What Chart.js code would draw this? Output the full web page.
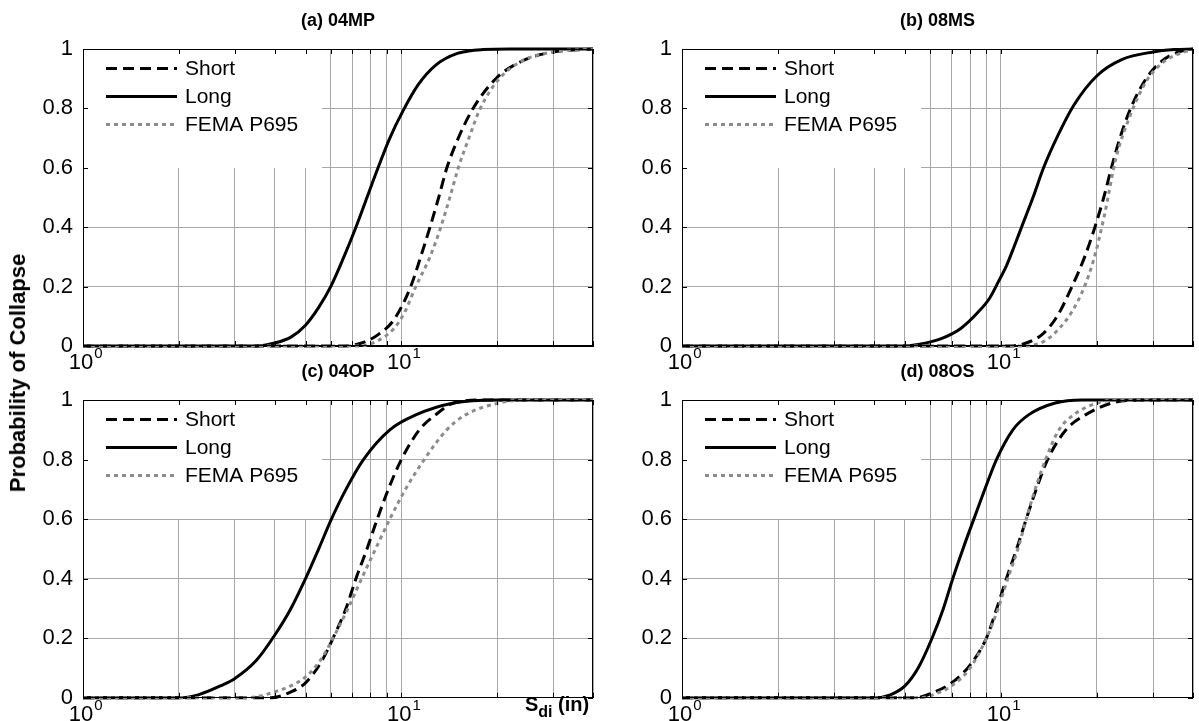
<!DOCTYPE html>
<html>
<head>
<meta charset="utf-8">
<script src="https://cdn.jsdelivr.net/npm/chart.js@4.4.1/dist/chart.umd.min.js"></script>
<style>
html,body{margin:0;padding:0;background:#fff;}
#wrap{position:relative;width:1199px;height:721px;overflow:hidden;background:#fff;font-family:"Liberation Sans",Arial,sans-serif;color:#000;}
#wrap canvas{position:absolute;}
.ptitle{position:absolute;font-weight:bold;font-size:18px;white-space:nowrap;transform:translateX(-50%);line-height:20px;}
#ylab{position:absolute;left:18px;top:373px;font-weight:bold;font-size:22px;white-space:nowrap;transform:translate(-50%,-50%) rotate(-90deg);line-height:24px;}
#xlab{position:absolute;left:525px;top:693px;font-weight:bold;font-size:20px;white-space:nowrap;line-height:22px;}
#xlab sub{font-size:16px;vertical-align:-6px;}
</style>
</head>
<body>
<div id="wrap"></div>
<script>
// ---------- data ----------
const panelTitles = ['(a) 04MP', '(b) 08MS', '(c) 04OP', '(d) 08OS'];
const seriesNames = ['Short', 'Long', 'FEMA P695'];
const yTickValues = [0, 0.2, 0.4, 0.6, 0.8, 1];
const yTickLabels = ['0', '0.2', '0.4', '0.6', '0.8', '1'];
const xGridValues = [1, 2, 3, 4, 5, 6, 7, 8, 9, 10, 20, 30, 40];
const xLabelValues = [1, 10];
const xLabelBase = ['10', '10'];
const xLabelExp = ['0', '1'];
const xMin = 1, xMax = 40;
const yAxisTitle = 'Probability of Collapse';
const xAxisTitleMain = 'S', xAxisTitleSub = 'di', xAxisTitleUnit = ' (in)';

// (a) 04MP
const aShortX = [1, 6.5, 7.5, 8.5, 9.5, 10.7, 11.5, 12.3, 13.1, 13.9, 15.1, 16.8, 19.8, 24, 30, 40];
const aShortY = [0, 0, 0.01, 0.04, 0.09, 0.2, 0.3, 0.4, 0.5, 0.6, 0.7, 0.8, 0.9, 0.96, 0.99, 1];
const aLongX  = [1, 3.5, 4, 4.5, 5, 5.5, 6, 6.6, 7.2, 7.8, 8.45, 9.2, 10.1, 11.3, 12.8, 15, 18, 22, 40];
const aLongY  = [0, 0, 0.01, 0.03, 0.07, 0.13, 0.2, 0.3, 0.4, 0.5, 0.6, 0.7, 0.79, 0.88, 0.945, 0.985, 0.998, 1, 1];
const aFemaX  = [1, 7.4, 8.5, 9.5, 10.2, 11.1, 12.3, 13.3, 14.2, 15.1, 16.3, 17.7, 20.3, 24, 30, 40];
const aFemaY  = [0, 0, 0.02, 0.06, 0.11, 0.2, 0.3, 0.4, 0.5, 0.6, 0.7, 0.8, 0.9, 0.96, 0.99, 1];

// (b) 08MS
const bShortX = [1, 10.5, 12, 13.5, 15, 16.7, 18.3, 19.7, 21, 22.2, 23.6, 25.5, 28.5, 32, 36, 40];
const bShortY = [0, 0, 0.01, 0.04, 0.1, 0.2, 0.3, 0.4, 0.5, 0.6, 0.7, 0.8, 0.9, 0.96, 0.99, 1];
const bLongX  = [1, 5, 5.5, 6.5, 7.5, 8.5, 9.2, 9.8, 10.4, 11, 11.6, 12.6, 13.6, 15.1, 16.9, 20, 24, 30, 35, 40];
const bLongY  = [0, 0, 0.005, 0.025, 0.06, 0.115, 0.16, 0.215, 0.27, 0.335, 0.4, 0.5, 0.6, 0.71, 0.81, 0.91, 0.965, 0.99, 0.998, 1];
const bFemaX  = [1, 11.5, 12.9, 14.8, 17.4, 19.4, 21.1, 22.9, 25.5, 28.5, 31.8, 37.5, 40];
const bFemaY  = [0, 0, 0.005, 0.045, 0.15, 0.28, 0.44, 0.63, 0.78, 0.89, 0.95, 0.99, 0.995];

// (c) 04OP
const cShortX = [1, 3.9, 4.5, 5, 5.6, 6.1, 6.7, 7.2, 7.8, 8.4, 9.1, 10, 11.4, 12.8, 14.6, 18, 40];
const cShortY = [0, 0, 0.02, 0.05, 0.12, 0.2, 0.3, 0.4, 0.5, 0.6, 0.7, 0.8, 0.9, 0.95, 0.99, 1, 1];
const cLongX  = [1, 2, 2.3, 2.7, 3, 3.5, 4, 4.5, 5, 5.5, 6.03, 6.7, 7.6, 9.2, 11.1, 14.6, 20, 40];
const cLongY  = [0, 0, 0.01, 0.04, 0.065, 0.125, 0.21, 0.3, 0.4, 0.5, 0.6, 0.7, 0.8, 0.9, 0.95, 0.99, 1, 1];
const cFemaX  = [1, 3.2, 4, 5, 5.6, 6.1, 6.8, 7.5, 8.3, 9.2, 10.3, 11.8, 13.9, 15.9, 20.3, 25, 40];
const cFemaY  = [0, 0, 0.02, 0.07, 0.13, 0.2, 0.3, 0.4, 0.5, 0.6, 0.7, 0.8, 0.9, 0.95, 0.99, 1, 1];

// (d) 08OS
const dShortX = [1, 5.4, 6.2, 7, 8, 9, 9.7, 10.4, 11.2, 12, 12.9, 14, 16, 18.4, 22.3, 28, 40];
const dShortY = [0, 0, 0.02, 0.05, 0.11, 0.2, 0.3, 0.4, 0.5, 0.6, 0.7, 0.8, 0.9, 0.95, 0.99, 1, 1];
const dLongX  = [1, 4, 4.5, 5, 5.5, 6.08, 6.6, 7.06, 7.6, 8.22, 8.9, 9.68, 10.9, 12.2, 14.8, 18, 40];
const dLongY  = [0, 0, 0.01, 0.04, 0.1, 0.2, 0.3, 0.4, 0.5, 0.6, 0.7, 0.8, 0.9, 0.95, 0.99, 1, 1];
const dFemaX  = [1, 5.5, 6.3, 7, 8, 9, 9.8, 10.5, 11.3, 12, 12.8, 13.8, 15.2, 16.9, 20, 24, 40];
const dFemaY  = [0, 0, 0.015, 0.04, 0.1, 0.2, 0.3, 0.4, 0.5, 0.6, 0.7, 0.8, 0.9, 0.95, 0.99, 1, 1];

const panelX = [[aShortX, aLongX, aFemaX], [bShortX, bLongX, bFemaX], [cShortX, cLongX, cFemaX], [dShortX, dLongX, dFemaX]];
const panelY = [[aShortY, aLongY, aFemaY], [bShortY, bLongY, bFemaY], [cShortY, cLongY, cFemaY], [dShortY, dLongY, dFemaY]];

// ---------- styles / layout ----------
const FONT = '"Liberation Sans", Arial, sans-serif';
const seriesStyle = [
  {color: '#000000', width: 3, dash: [11, 6], order: 2},
  {color: '#000000', width: 3, dash: [], order: 1},
  {color: '#8c8c8c', width: 3, dash: [4, 4], order: 0}
];
const geo = [
  {cx: 0,   cy: 0,   cw: 600, ch: 380, l: 83,  t: 49,  r: 593,  b: 346},
  {cx: 600, cy: 0,   cw: 599, ch: 380, l: 682, t: 49,  r: 1193, b: 346},
  {cx: 0,   cy: 372, cw: 600, ch: 349, l: 83,  t: 400, r: 593,  b: 699},
  {cx: 600, cy: 372, cw: 599, ch: 349, l: 682, t: 400, r: 1193, b: 699}
];
const LEG = {w: 238, h: 118, x0: 23, x1: 94, tx: 102, rows: [19, 47, 75], size: 21};
const TICK_SIZE = 22;
const EXP_SIZE = 15;

const framePlugin = {
  id: 'frame',
  afterDraw(chart) {
    const a = chart.chartArea, ctx = chart.ctx;
    const xs = chart.scales.x, ys = chart.scales.y;
    ctx.save();
    ctx.strokeStyle = '#000';
    ctx.lineWidth = 1;
    ctx.strokeRect(Math.round(a.left) + 0.5, Math.round(a.top) + 0.5, Math.round(a.right - a.left) - 1, Math.round(a.bottom - a.top) - 1);
    ctx.beginPath();
    xGridValues.forEach(v => {
      const px = Math.round(xs.getPixelForValue(v)) + 0.5;
      ctx.moveTo(px, a.bottom); ctx.lineTo(px, a.bottom - 5);
      ctx.moveTo(px, a.top); ctx.lineTo(px, a.top + 5);
    });
    yTickValues.forEach(v => {
      const py = Math.round(ys.getPixelForValue(v)) + 0.5;
      ctx.moveTo(a.left, py); ctx.lineTo(a.left + 5, py);
      ctx.moveTo(a.right, py); ctx.lineTo(a.right - 5, py);
    });
    ctx.stroke();
    // x tick labels 10^n
    ctx.fillStyle = '#000';
    ctx.textBaseline = 'alphabetic';
    xLabelValues.forEach((v, i) => {
      const px = xs.getPixelForValue(v);
      ctx.font = TICK_SIZE + 'px ' + FONT;
      const wb = ctx.measureText(xLabelBase[i]).width;
      const x0 = px - wb / 2 - 2;
      const base = a.bottom + 23;
      ctx.textAlign = 'left';
      ctx.fillText(xLabelBase[i], x0, base);
      ctx.font = EXP_SIZE + 'px ' + FONT;
      ctx.fillText(xLabelExp[i], x0 + wb + 1, base - 11);
    });
    ctx.restore();
  }
};

const legendPlugin = {
  id: 'inlegend',
  beforeDatasetsDraw(chart) {
    const a = chart.chartArea, ctx = chart.ctx;
    ctx.save();
    ctx.fillStyle = '#fff';
    ctx.fillRect(a.left + 1, a.top + 1, LEG.w, LEG.h);
    ctx.restore();
  },
  afterDatasetsDraw(chart) {
    const a = chart.chartArea, ctx = chart.ctx;
    ctx.save();
    seriesNames.forEach((name, k) => {
      const st = seriesStyle[k];
      const y = Math.round(a.top + LEG.rows[k]) + 0.5;
      ctx.beginPath();
      ctx.strokeStyle = st.color;
      ctx.lineWidth = st.width;
      ctx.setLineDash(st.dash);
      ctx.lineCap = 'butt';
      ctx.moveTo(a.left + LEG.x0, y);
      ctx.lineTo(a.left + LEG.x1, y);
      ctx.stroke();
      ctx.setLineDash([]);
      ctx.fillStyle = '#000';
      ctx.font = LEG.size + 'px ' + FONT;
      ctx.textAlign = 'left';
      ctx.textBaseline = 'middle';
      ctx.fillText(name, a.left + LEG.tx, y + 1);
    });
    ctx.restore();
  }
};

const wrap = document.getElementById('wrap');

function makePanel(i) {
  const g = geo[i];
  const cv = document.createElement('canvas');
  cv.width = g.cw; cv.height = g.ch;
  cv.style.left = g.cx + 'px'; cv.style.top = g.cy + 'px';
  cv.style.width = g.cw + 'px'; cv.style.height = g.ch + 'px';
  wrap.appendChild(cv);

  const datasets = seriesNames.map((name, k) => ({
    label: name,
    data: panelX[i][k].map((x, j) => ({x: x, y: panelY[i][k][j]})),
    borderColor: seriesStyle[k].color,
    borderWidth: seriesStyle[k].width,
    borderDash: seriesStyle[k].dash,
    borderCapStyle: 'butt',
    pointRadius: 0,
    fill: false,
    cubicInterpolationMode: 'monotone',
    order: seriesStyle[k].order,
    clip: 4
  }));

  new Chart(cv, {
    type: 'line',
    data: {datasets: datasets},
    options: {
      responsive: false,
      animation: false,
      devicePixelRatio: 1,
      events: [],
      layout: {padding: {left: 0, top: g.t - g.cy, right: g.cx + g.cw - g.r, bottom: 0}},
      plugins: {legend: {display: false}, tooltip: {enabled: false}, title: {display: false}},
      scales: {
        x: {
          type: 'logarithmic', min: xMin, max: xMax,
          afterBuildTicks: s => { s.ticks = xGridValues.map(v => ({value: v})); },
          afterFit: s => { s.height = g.cy + g.ch - g.b; },
          ticks: {display: false},
          grid: {color: '#a8a8a8', lineWidth: 1, drawTicks: false},
          border: {display: true, color: '#000', width: 1}
        },
        y: {
          type: 'linear', min: 0, max: 1,
          afterBuildTicks: s => { s.ticks = yTickValues.map(v => ({value: v})); },
          afterFit: s => { s.width = g.l - g.cx; },
          ticks: {
            callback: (v) => yTickLabels[yTickValues.indexOf(v)],
            font: {family: FONT, size: TICK_SIZE}, color: '#000', padding: 10
          },
          grid: {color: '#a8a8a8', lineWidth: 1, drawTicks: false},
          border: {display: true, color: '#000', width: 1}
        }
      }
    },
    plugins: [legendPlugin, framePlugin]
  });

  const t = document.createElement('div');
  t.className = 'ptitle';
  t.textContent = panelTitles[i];
  t.style.left = ((g.l + g.r) / 2) + 'px';
  t.style.top = (g.t - 39) + 'px';
  wrap.appendChild(t);
}

for (let i = 0; i < 4; i++) makePanel(i);

const yl = document.createElement('div');
yl.id = 'ylab'; yl.textContent = yAxisTitle;
wrap.appendChild(yl);
const xl = document.createElement('div');
xl.id = 'xlab';
xl.appendChild(document.createTextNode(xAxisTitleMain));
const sb = document.createElement('sub'); sb.textContent = xAxisTitleSub; xl.appendChild(sb);
xl.appendChild(document.createTextNode(xAxisTitleUnit));
wrap.appendChild(xl);
</script>
</body>
</html>
